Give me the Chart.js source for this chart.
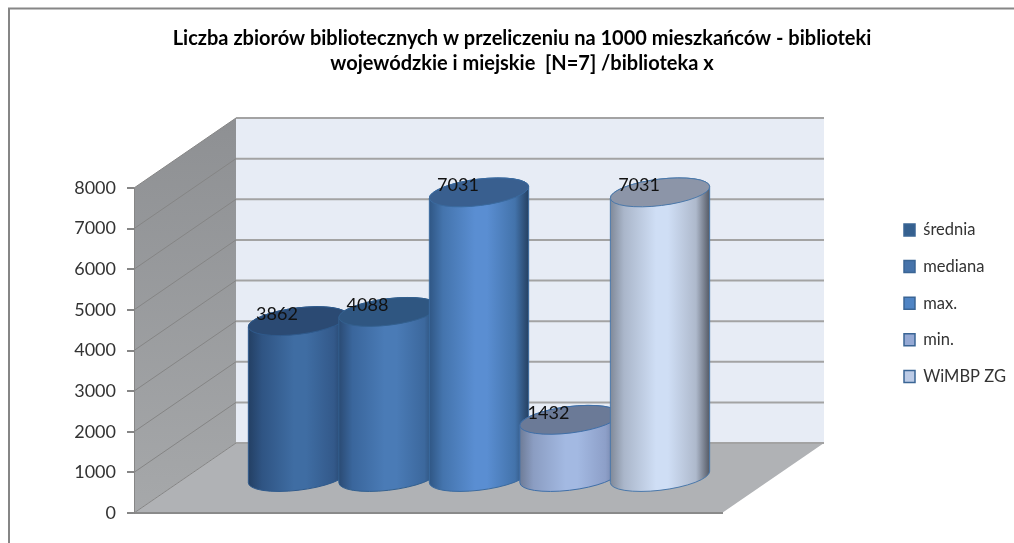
<!DOCTYPE html>
<html>
<head>
<meta charset="utf-8">
<title>Liczba zbiorów bibliotecznych</title>
<script src="https://cdn.jsdelivr.net/npm/chart.js@4"></script>
<style>
html, body { margin: 0; padding: 0; background: #fff; }
#wrap { width: 1014px; height: 543px; }
</style>
</head>
<body>
<div id="wrap"><canvas id="myChart" width="1014" height="543"></canvas></div>
<script>
const categories = ['biblioteka x']
const seriesNames = ['średnia', 'mediana', 'max.', 'min.', 'WiMBP ZG']
const seriesValues = [3862, 4088, 7031, 1432, 7031]
const titleLines = [
    'Liczba zbiorów bibliotecznych w przeliczeniu na 1000 mieszkańców - biblioteki',
    'wojewódzkie i miejskie  [N=7] /biblioteka x'
]

const legendFill = ['#35608f', '#4673aa', '#4f84c4', '#95a9d4', '#bccbe6']
// left edge, shaded edge, middle, shaded edge, right edge of each cylinder, then its lid
const bodyColors = [
    ['#233f63', '#2f5483', '#3f6da3', '#33598a', '#1f3a5c', '#2b4a73'],
    ['#2a4a73', '#3a669c', '#4a7bb6', '#3c689d', '#233f5f', '#2f5681'],
    ['#2f5684', '#4474ad', '#5a8ed2', '#4373ab', '#243f60', '#395f8f'],
    ['#6d7b96', '#8b9dc2', '#a3b9e2', '#8d9fc8', '#67769a', '#6b7a97'],
    ['#7f8897', '#aab6ca', '#cfdef5', '#aeb9cc', '#525762', '#8c95a8']
]
const edgeColors = ['#2f5a8c', '#33608f', '#3a6a9f', '#3f6fa8', '#4a78aa']

// the floor runs this far back from the axes, bars stand half way
const depthX = 102
const depthY = 70
const tilt = -7 * Math.PI / 180
const lidHeight = 13.2

const scene3d = {
    id: 'scene3d',
    afterLayout(chart) {
        chart.titleBlock.left = 30
        chart.titleBlock.right = chart.width
        const lg = chart.legend
        lg.left = 883.9
        lg.right = 1014
        lg.top = 201.65
        lg.bottom = 543
    },
    beforeDraw(chart) {
        const { ctx, chartArea: area, scales } = chart
        const y = scales.y
        const l = area.left, r = area.right, b = area.bottom, t = area.top

        // outer frame
        ctx.save()
        ctx.strokeStyle = '#868686'
        ctx.lineWidth = 2
        ctx.beginPath()
        ctx.moveTo(9, chart.height)
        ctx.lineTo(9, 8.5)
        ctx.lineTo(chart.width, 8.5)
        ctx.stroke()

        // back wall
        ctx.fillStyle = '#e7ecf5'
        ctx.fillRect(l + depthX, t - depthY, r - l, b - t)

        // floor
        ctx.fillStyle = '#b0b2b5'
        ctx.beginPath()
        ctx.moveTo(l, b)
        ctx.lineTo(l + depthX, b - depthY)
        ctx.lineTo(r + depthX, b - depthY)
        ctx.lineTo(r, b)
        ctx.closePath()
        ctx.fill()

        // left wall
        const wallGrad = ctx.createLinearGradient(0, t - depthY, 0, b)
        wallGrad.addColorStop(0, '#8e9093')
        wallGrad.addColorStop(1, '#a6a8aa')
        ctx.fillStyle = wallGrad
        ctx.beginPath()
        ctx.moveTo(l, t)
        ctx.lineTo(l + depthX, t - depthY)
        ctx.lineTo(l + depthX, b - depthY)
        ctx.lineTo(l, b)
        ctx.closePath()
        ctx.fill()

        // gridlines on both walls
        y.ticks.forEach(tick => {
            const py = y.getPixelForValue(tick.value)
            ctx.strokeStyle = '#858585'
            ctx.lineWidth = 1
            ctx.beginPath()
            ctx.moveTo(l, py)
            ctx.lineTo(l + depthX, py - depthY)
            ctx.stroke()
            ctx.strokeStyle = '#a3a3a3'
            ctx.lineWidth = 2
            ctx.beginPath()
            ctx.moveTo(l + depthX, py - depthY)
            ctx.lineTo(r + depthX, py - depthY)
            ctx.stroke()
        })
        ctx.restore()
    },
    beforeDatasetDraw() {
        return false
    },
    afterDatasetsDraw(chart) {
        const ctx = chart.ctx
        seriesValues.forEach((value, i) => {
            const bar = chart.getDatasetMeta(i).data[0]
            const cx = bar.x + depthX / 2
            const topY = bar.y - depthY / 2
            const baseY = bar.base - depthY / 2
            const a = bar.width / 2
            const t0 = Math.atan2(-lidHeight * Math.sin(tilt), a * Math.cos(tilt))
            const colors = bodyColors[i]

            const grad = ctx.createLinearGradient(cx - a, 0, cx + a, 0)
            grad.addColorStop(0, colors[0])
            grad.addColorStop(0.14, colors[1])
            grad.addColorStop(0.46, colors[2])
            grad.addColorStop(0.58, colors[2])
            grad.addColorStop(0.86, colors[3])
            grad.addColorStop(1, colors[4])

            ctx.save()
            ctx.lineWidth = 1
            ctx.strokeStyle = edgeColors[i]
            ctx.fillStyle = grad
            ctx.beginPath()
            ctx.ellipse(cx, baseY, a, lidHeight, tilt, t0, t0 + Math.PI)
            ctx.ellipse(cx, topY, a, lidHeight, tilt, t0 + Math.PI, t0 + 2 * Math.PI)
            ctx.closePath()
            ctx.fill()
            ctx.stroke()

            ctx.fillStyle = colors[5]
            ctx.beginPath()
            ctx.ellipse(cx, topY, a, lidHeight, tilt, 0, 2 * Math.PI)
            ctx.fill()
            ctx.stroke()
            ctx.restore()
        })
        // value labels go over all the cylinders
        seriesValues.forEach((value, i) => {
            const bar = chart.getDatasetMeta(i).data[0]
            ctx.save()
            ctx.font = '18px Lato'
            ctx.fillStyle = '#111'
            ctx.textAlign = 'center'
            ctx.textBaseline = 'middle'
            ctx.fillText(String(value), bar.x + depthX / 2 - 21, bar.y - depthY / 2 - 7)
            ctx.restore()
        })
    }
}

const ctx = document.getElementById('myChart').getContext('2d')
const myChart = new Chart(ctx, {
    type: 'bar',
    plugins: [scene3d],
    data: {
        labels: categories,
        datasets: seriesNames.map((name, i) => ({
            label: name,
            data: [seriesValues[i]],
            backgroundColor: legendFill[i],
            borderColor: '#3a6595',
            borderWidth: 1.5,
            barPercentage: 1.105,
            categoryPercentage: 0.7696
        }))
    },
    options: {
        responsive: false,
        animation: false,
        layout: { padding: { left: 8, right: 292, top: 0, bottom: 30 } },
        plugins: {
            title: {
                display: true,
                text: titleLines,
                color: '#000',
                font: { family: 'Lato', size: 20, weight: 'bold', lineHeight: 25 / 20 },
                padding: { top: 26.5, bottom: 111.5 }
            },
            legend: {
                position: 'chartArea',
                align: 'start',
                labels: {
                    color: '#333',
                    font: { family: 'Lato', size: 16.5 },
                    boxWidth: 11,
                    boxHeight: 12,
                    padding: 20.1
                }
            },
            tooltip: { enabled: false }
        },
        scales: {
            x: {
                afterFit(scale) { scale.height = 0 },
                ticks: { display: false },
                grid: { display: false },
                border: { color: '#8a8a8a', width: 2 }
            },
            y: {
                min: 0,
                max: 8000,
                afterFit(scale) { scale.width = 126 },
                ticks: {
                    stepSize: 1000,
                    color: '#333',
                    padding: 11,
                    font: { family: 'Lato', size: 18 },
                    callback: value => String(value)
                },
                grid: { drawOnChartArea: false, tickLength: 7, color: '#868686', lineWidth: 2 },
                border: { color: '#868686', width: 1 }
            }
        }
    }
})
</script>
</body>
</html>
